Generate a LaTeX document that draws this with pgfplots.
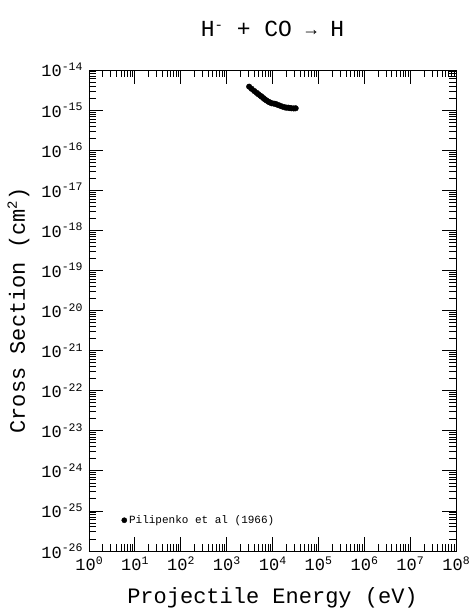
\documentclass[border=0pt]{standalone}
\usepackage{pgfplots}
\pgfplotsset{compat=1.18}
\usepackage{fontspec}
\setmainfont{Liberation Mono}
\newcommand{\tl}[1]{10\raisebox{6.5bp}{\fontsize{11.5bp}{12bp}\selectfont #1}}
\begin{document}
\begin{tikzpicture}
\begin{axis}[
  name=ax,
  xmode=log, ymode=log,
  scale only axis,
  width=367bp, height=481bp,
  xmin=1, xmax=1e8, ymin=1e-26, ymax=1e-14,
  xtickten={0,...,8},
  ytickten={-26,...,-14},
  xticklabels={\tl{0},\tl{1},\tl{2},\tl{3},\tl{4},\tl{5},\tl{6},\tl{7},\tl{8}},
  yticklabels={\tl{-26},\tl{-25},\tl{-24},\tl{-23},\tl{-22},\tl{-21},\tl{-20},\tl{-19},\tl{-18},\tl{-17},\tl{-16},\tl{-15},\tl{-14}},
  tick label style={font=\fontsize{17bp}{19bp}\selectfont},
  xticklabel style={yshift=-2bp},
  yticklabel style={xshift=-3bp},
  major tick length=14bp,
  minor tick length=7bp,
  tick align=inside,
  axis line style={line width=0.9bp},
  every tick/.style={black, line width=0.8bp},
  title={H\raisebox{7bp}{\fontsize{14bp}{14bp}\selectfont -} + CO \raisebox{1bp}{\fontsize{18bp}{18bp}\selectfont →} H},
  title style={at={(0.5,1.0582)}, anchor=base, font=\fontsize{23bp}{25bp}\selectfont, inner sep=0pt},
  xlabel={Projectile Energy (eV)},
  xlabel style={at={(0.5,-0.1081)}, anchor=base, font=\fontsize{22bp}{24bp}\selectfont, inner sep=0pt},
  ylabel={Cross Section (cm\raisebox{8bp}{\fontsize{14bp}{14bp}\selectfont 2})},
  ylabel style={at={(-0.1744,0.5)}, anchor=base, font=\fontsize{22bp}{24bp}\selectfont, inner sep=0pt},
  legend style={at={(0.088,0.064)}, anchor=west, draw=none, fill=none, inner sep=0pt,
    font=\fontsize{11bp}{12bp}\selectfont, legend cell align=left,
    /tikz/every even column/.append style={column sep=3bp}},
  legend image code/.code={\fill[black] (0bp,0bp) circle (2.6bp);},
]
\addplot[only marks, mark=*, mark size=2.8bp, black] coordinates {
(3100,3.84e-15)
(3500,3.4e-15)
(4000,3.0e-15)
(4500,2.7e-15)
(4900,2.5e-15)
(5400,2.3e-15)
(5800,2.16e-15)
(6300,2.0e-15)
(6800,1.86e-15)
(7400,1.74e-15)
(8100,1.62e-15)
(8800,1.55e-15)
(9600,1.48e-15)
(10700,1.45e-15)
(11800,1.42e-15)
(13000,1.35e-15)
(14500,1.29e-15)
(16500,1.22e-15)
(18600,1.17e-15)
(20000,1.15e-15)
(22000,1.15e-15)
(24000,1.12e-15)
(26000,1.11e-15)
(29000,1.10e-15)
(32000,1.11e-15)
};
\addlegendentry{Pilipenko et al (1966)}
\end{axis}
\path (ax.south west) ++(-89bp,-60bp) coordinate (bl);
\path (ax.north east) ++(14bp,70bp) coordinate (tr);
\pgfresetboundingbox
\path[use as bounding box] (bl) rectangle (tr);
\end{tikzpicture}
\end{document}
